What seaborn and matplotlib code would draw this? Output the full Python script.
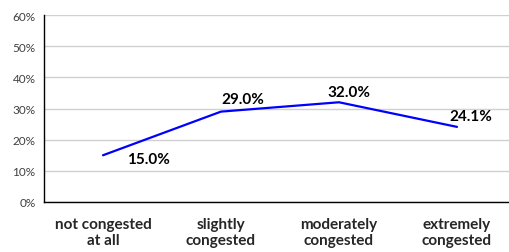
import numpy as np
import pandas as pd
import seaborn as sns
import matplotlib.pyplot as plt
from matplotlib.ticker import PercentFormatter

categories = ["not congested\nat all", "slightly\ncongested", "moderately\ncongested", "extremely\ncongested"]
shares = [15.0, 29.0, 32.0, 24.1]
# label offsets in pixels (dx, dy) relative to each point
label_offsets = [(24, -4), (0, 13), (-12, 10), (-8, 11)]

df = pd.DataFrame({"category": categories, "share": shares})
df["pos"] = np.arange(len(categories))

sns.set_style("white")
plt.rcParams["font.family"] = ["Lato", "DejaVu Sans"]

fig = plt.figure(figsize=(5.09, 2.53), dpi=100)
ax = fig.add_axes([44 / 509, 50 / 253, 472 / 509, 187 / 253])

sns.lineplot(data=df, x="pos", y="share", color="#0000ff", linewidth=1.6, ax=ax)

for x, y, (dx, dy) in zip(df["pos"], df["share"], label_offsets):
    ax.annotate(f"{y:.1f}%", (x, y), xytext=(dx, dy), textcoords="offset pixels",
                ha="left", va="center", fontsize=11, fontweight="bold", color="black")

ax.set_xlim(-0.5, 3.5)
ax.set_ylim(0, 60)
ax.set_yticks(np.arange(0, 61, 10))
ax.yaxis.set_major_formatter(PercentFormatter(decimals=0))
ax.grid(axis="y", color="#d0d0d0", linewidth=1)
ax.set_axisbelow(True)

ax.set_xticks(np.arange(-0.5, 3.6, 1))
ax.set_xticklabels([])
ax.set_xticks(df["pos"], minor=True)
ax.set_xticklabels(categories, minor=True, fontsize=11, fontweight="bold", linespacing=1.2)
ax.tick_params(axis="x", which="major", direction="out", length=4, width=1, color="#333333")
ax.tick_params(axis="x", which="minor", length=0, pad=11)
ax.tick_params(axis="y", direction="out", length=4, width=1, color="black",
               labelsize=8.5, labelcolor="#404040", pad=2)

ax.set_xlabel("")
ax.set_ylabel("")
for side in ["top", "right"]:
    ax.spines[side].set_visible(False)
for side in ["left", "bottom"]:
    ax.spines[side].set_color("black")
    ax.spines[side].set_linewidth(1)

fig.savefig("out.png", dpi=100)
